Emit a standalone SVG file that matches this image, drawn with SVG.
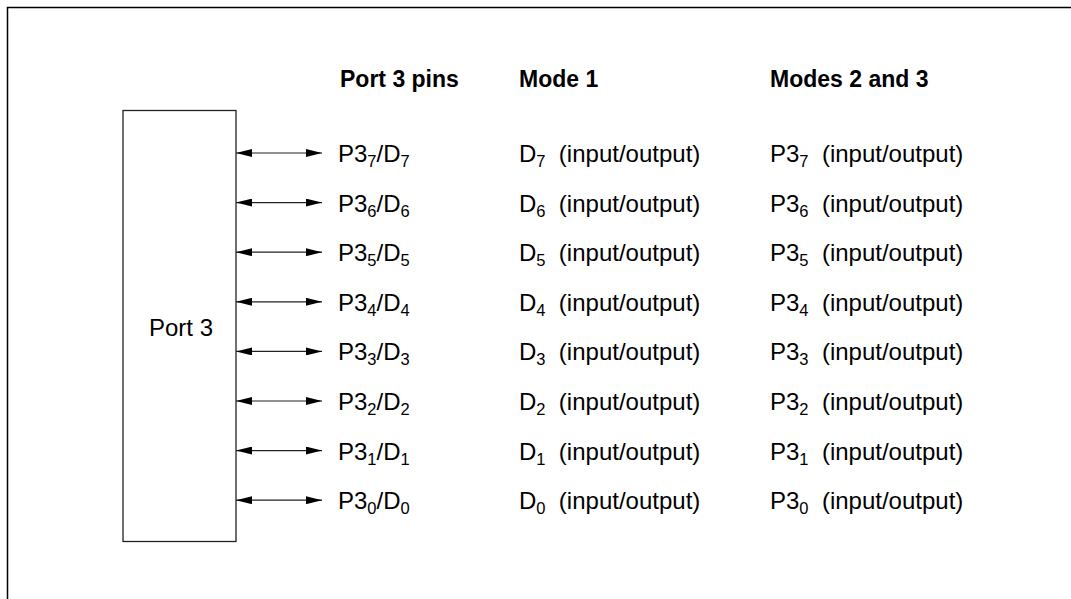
<svg xmlns="http://www.w3.org/2000/svg" width="1071" height="599" viewBox="0 0 1071 599">
<style>
text{font-family:"Liberation Sans",Arial,sans-serif;font-size:24px;fill:#000;white-space:pre}
.h{font-weight:bold;font-size:23px}
.s{font-size:16.5px}
.ln{stroke:#222;stroke-width:1.2;fill:none}
</style>
<defs>
<marker id="ah" viewBox="0 0 16 8" refX="16" refY="4" markerWidth="16" markerHeight="8" markerUnits="userSpaceOnUse" orient="auto-start-reverse">
<path d="M0,0L16,4L0,8z" fill="#000"/>
</marker>
</defs>
<rect width="1071" height="599" fill="#fff"/>
<path d="M7.5,599V7.5H1071" stroke="#000" stroke-width="1.5" fill="none"/>
<g id="headers">
<text class="h" x="340" y="87">Port 3 pins</text>
<text class="h" x="519" y="87">Mode 1</text>
<text class="h" x="770" y="87">Modes 2 and 3</text>
</g>
<g id="port3">
<rect x="123" y="110.5" width="113" height="431" fill="#fff" stroke="#222" stroke-width="1.3"/>
<text x="181" y="336" text-anchor="middle">Port 3</text>
</g>
<g id="connectors">
<line class="ln" x1="236" y1="153" x2="322" y2="153" marker-start="url(#ah)" marker-end="url(#ah)"/>
<line class="ln" x1="236" y1="202.6" x2="322" y2="202.6" marker-start="url(#ah)" marker-end="url(#ah)"/>
<line class="ln" x1="236" y1="252.2" x2="322" y2="252.2" marker-start="url(#ah)" marker-end="url(#ah)"/>
<line class="ln" x1="236" y1="301.8" x2="322" y2="301.8" marker-start="url(#ah)" marker-end="url(#ah)"/>
<line class="ln" x1="236" y1="351.4" x2="322" y2="351.4" marker-start="url(#ah)" marker-end="url(#ah)"/>
<line class="ln" x1="236" y1="401" x2="322" y2="401" marker-start="url(#ah)" marker-end="url(#ah)"/>
<line class="ln" x1="236" y1="450.6" x2="322" y2="450.6" marker-start="url(#ah)" marker-end="url(#ah)"/>
<line class="ln" x1="236" y1="500.2" x2="322" y2="500.2" marker-start="url(#ah)" marker-end="url(#ah)"/>
</g>
<g id="row7"><text x="338" y="162">P3<tspan class="s" dy="5">7</tspan><tspan dy="-5">/D</tspan><tspan class="s" dy="5">7</tspan></text><text x="519" y="162" xml:space="preserve">D<tspan class="s" dy="5">7</tspan><tspan dy="-5">  (input/output)</tspan></text><text x="770" y="162" xml:space="preserve">P3<tspan class="s" dy="5">7</tspan><tspan dy="-5">  (input/output)</tspan></text></g>
<g id="row6"><text x="338" y="211.6">P3<tspan class="s" dy="5">6</tspan><tspan dy="-5">/D</tspan><tspan class="s" dy="5">6</tspan></text><text x="519" y="211.6" xml:space="preserve">D<tspan class="s" dy="5">6</tspan><tspan dy="-5">  (input/output)</tspan></text><text x="770" y="211.6" xml:space="preserve">P3<tspan class="s" dy="5">6</tspan><tspan dy="-5">  (input/output)</tspan></text></g>
<g id="row5"><text x="338" y="261.2">P3<tspan class="s" dy="5">5</tspan><tspan dy="-5">/D</tspan><tspan class="s" dy="5">5</tspan></text><text x="519" y="261.2" xml:space="preserve">D<tspan class="s" dy="5">5</tspan><tspan dy="-5">  (input/output)</tspan></text><text x="770" y="261.2" xml:space="preserve">P3<tspan class="s" dy="5">5</tspan><tspan dy="-5">  (input/output)</tspan></text></g>
<g id="row4"><text x="338" y="310.8">P3<tspan class="s" dy="5">4</tspan><tspan dy="-5">/D</tspan><tspan class="s" dy="5">4</tspan></text><text x="519" y="310.8" xml:space="preserve">D<tspan class="s" dy="5">4</tspan><tspan dy="-5">  (input/output)</tspan></text><text x="770" y="310.8" xml:space="preserve">P3<tspan class="s" dy="5">4</tspan><tspan dy="-5">  (input/output)</tspan></text></g>
<g id="row3"><text x="338" y="360.4">P3<tspan class="s" dy="5">3</tspan><tspan dy="-5">/D</tspan><tspan class="s" dy="5">3</tspan></text><text x="519" y="360.4" xml:space="preserve">D<tspan class="s" dy="5">3</tspan><tspan dy="-5">  (input/output)</tspan></text><text x="770" y="360.4" xml:space="preserve">P3<tspan class="s" dy="5">3</tspan><tspan dy="-5">  (input/output)</tspan></text></g>
<g id="row2"><text x="338" y="410">P3<tspan class="s" dy="5">2</tspan><tspan dy="-5">/D</tspan><tspan class="s" dy="5">2</tspan></text><text x="519" y="410" xml:space="preserve">D<tspan class="s" dy="5">2</tspan><tspan dy="-5">  (input/output)</tspan></text><text x="770" y="410" xml:space="preserve">P3<tspan class="s" dy="5">2</tspan><tspan dy="-5">  (input/output)</tspan></text></g>
<g id="row1"><text x="338" y="459.6">P3<tspan class="s" dy="5">1</tspan><tspan dy="-5">/D</tspan><tspan class="s" dy="5">1</tspan></text><text x="519" y="459.6" xml:space="preserve">D<tspan class="s" dy="5">1</tspan><tspan dy="-5">  (input/output)</tspan></text><text x="770" y="459.6" xml:space="preserve">P3<tspan class="s" dy="5">1</tspan><tspan dy="-5">  (input/output)</tspan></text></g>
<g id="row0"><text x="338" y="509.2">P3<tspan class="s" dy="5">0</tspan><tspan dy="-5">/D</tspan><tspan class="s" dy="5">0</tspan></text><text x="519" y="509.2" xml:space="preserve">D<tspan class="s" dy="5">0</tspan><tspan dy="-5">  (input/output)</tspan></text><text x="770" y="509.2" xml:space="preserve">P3<tspan class="s" dy="5">0</tspan><tspan dy="-5">  (input/output)</tspan></text></g>
</svg>
